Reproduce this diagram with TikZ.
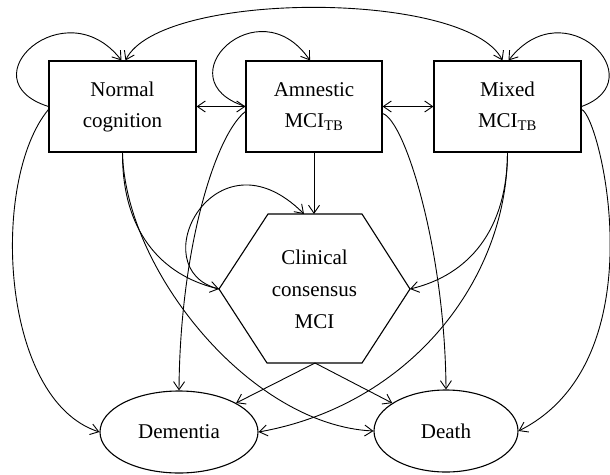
\documentclass[tikz,border=0pt]{standalone}
\usepackage{fontspec}
\setmainfont{Liberation Serif}
\usetikzlibrary{arrows.meta,shapes.geometric}
\begin{document}
\begin{tikzpicture}[x=1pt,y=-1pt,
  box/.style={draw, line width=1.1pt, minimum width=147pt, minimum height=91pt, inner sep=0pt, align=center, font=\fontsize{21}{31}\selectfont},
  oval/.style={draw, ellipse, line width=1.1pt, inner sep=0pt, font=\fontsize{21}{31}\selectfont},
  hexline/.style={line width=1.1pt, line join=miter},
  hextext/.style={align=center, inner sep=0pt, font=\fontsize{21}{32}\selectfont},
  arr/.style={-{Straight Barb[length=8pt,width=11pt]}, line width=0.9pt},
  darr/.style={{Straight Barb[length=8pt,width=11pt]}-{Straight Barb[length=8pt,width=11pt]}, line width=0.9pt}]
\useasboundingbox (0,0) rectangle (610,474);

% nodes
\node[box] (N) at (122.5,106.5) {Normal\\cognition};
\node[box, minimum width=136pt] (A) at (314,106.5) {Amnestic\\MCI\textsubscript{TB}};
\node[box] (M) at (507.5,106.5) {Mixed\\MCI\textsubscript{TB}};
\node[oval, minimum width=158pt, minimum height=82pt] (D) at (179,432) {Dementia};
\node[oval, minimum width=144pt, minimum height=82pt] (T) at (446,431) {Death};

% hexagon
\coordinate (Ctl) at (268,214);
\coordinate (Ctr) at (362,214);
\coordinate (Cr) at (410,289);
\coordinate (Cbr) at (362,363);
\coordinate (Cbl) at (267,363);
\coordinate (Cl) at (219,289);
\coordinate (Ct) at (314,214);
\coordinate (Ctloop) at (304,214);
\coordinate (Cb) at (315,363);
\draw[hexline] (Ctl) -- (Ctr) -- (Cr) -- (Cbr) -- (Cbl) -- (Cl) -- cycle;
\node[hextext] (C) at (314.5,289) {Clinical\\consensus\\MCI};

% self loops
\draw[arr] (N.west) .. controls (-35,80) and (65,-12) .. ([xshift=-1pt]N.north);
\draw[arr] (A.west) .. controls (162,80) and (258,-15) .. ([xshift=-4pt]A.north);
\draw[arr] (M.east) .. controls (655,80) and (565,-12) .. ([xshift=1pt]M.north);
\draw[arr] (Cl) .. controls (140,270) and (215,125) .. (Ctloop);

% big arc
\draw[darr] ([xshift=3pt]N.north) .. controls (160,-10) and (467,-10) .. ([xshift=-5pt]M.north);

% horizontal links
\draw[darr] (N.east) -- (A.west);
\draw[darr] (A.east) -- (M.west);

% from Normal
\draw[arr] (N.south) .. controls (122,230) and (160,275) .. (Cl);
\draw[arr] (N.south) .. controls (125,270) and (250,425) .. (T.west);
\draw[arr] ([yshift=-3pt]N.west) .. controls (-10,180) and (0,400) .. (D.west);

% from Amnestic
\draw[arr] (A.south) -- (Ct);
\draw[arr] ([yshift=-5pt]A.west) .. controls (215,135) and (180,250) .. (D.north);
\draw[arr] ([yshift=-7pt]A.east) .. controls (405,120) and (445,250) .. (T.north);

% from Mixed
\draw[arr] (M.south) .. controls (507,230) and (469,275) .. (Cr);
\draw[arr] (M.south) .. controls (507,280) and (410,405) .. (D.east);
\draw[arr] ([yshift=-3pt]M.east) .. controls (600,115) and (660,360) .. (T.east);

% from Clinical
\draw[arr] (Cb) -- (D);
\draw[arr] (Cb) -- (T);
\end{tikzpicture}
\end{document}
